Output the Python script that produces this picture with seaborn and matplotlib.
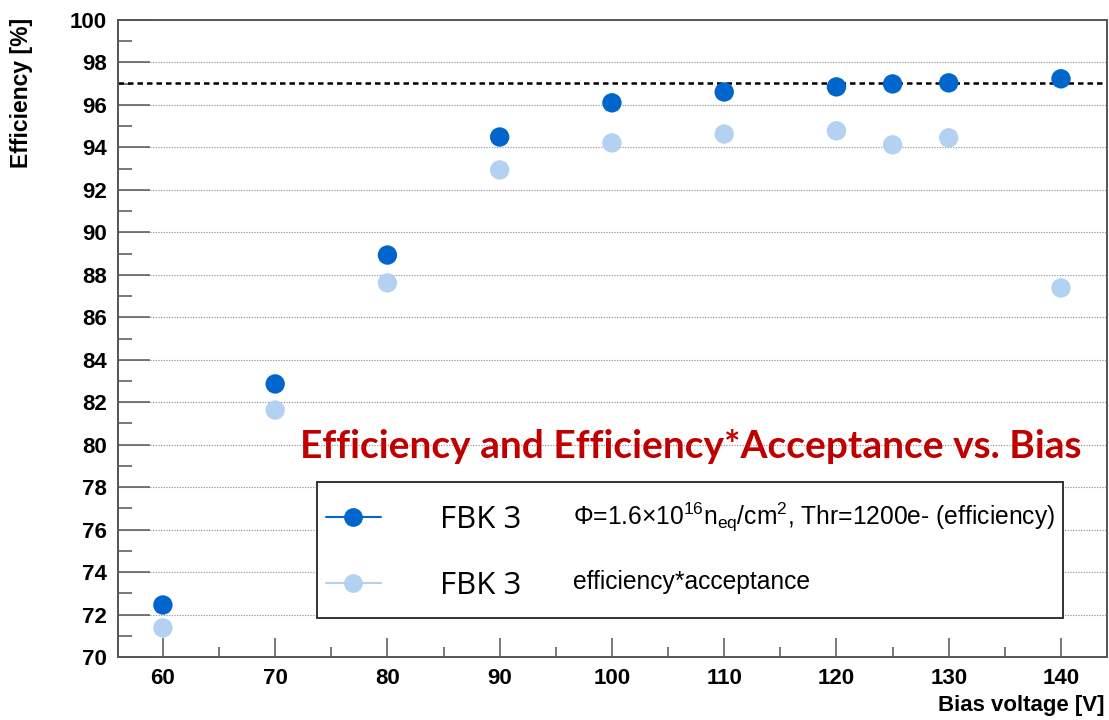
import matplotlib
matplotlib.use("Agg")
import matplotlib.pyplot as plt
from matplotlib.lines import Line2D
from matplotlib.patches import Rectangle
from matplotlib.ticker import MultipleLocator
import seaborn as sns
import pandas as pd

# values
bias = [60, 70, 80, 90, 100, 110, 120, 125, 130, 140]
efficiency = [72.45, 82.86, 88.93, 94.49, 96.10, 96.61, 96.85, 96.99, 97.04, 97.23]
eff_acceptance = [71.37, 81.63, 87.62, 92.94, 94.21, 94.63, 94.78, 94.12, 94.45, 87.38]
reference_level = 97.04

series_names = ["efficiency", "efficiency*acceptance"]
legend_label = "FBK 3"
legend_desc = [r"$\Phi$=1.6$\times$10$^{16}$n$_{\mathrm{eq}}$/cm$^{2}$, Thr=1200e- (efficiency)",
               "efficiency*acceptance"]
title = "Efficiency and Efficiency*Acceptance vs. Bias"

dark_blue = "#0066CC"
light_blue = "#B3D1F0"

sns.set_theme(style="white")
plt.rcParams["font.family"] = ["Liberation Sans", "DejaVu Sans"]
plt.rcParams["text.color"] = "black"
plt.rcParams["mathtext.fontset"] = "custom"
plt.rcParams["mathtext.rm"] = "Liberation Sans"
plt.rcParams["mathtext.it"] = "Liberation Sans:italic"

df = pd.DataFrame({
    "bias": bias * 2,
    "value": efficiency + eff_acceptance,
    "series": [series_names[0]] * len(bias) + [series_names[1]] * len(bias),
})

W, H = 1109, 720
fig = plt.figure(figsize=(W / 100, H / 100), dpi=100)
ax = fig.add_axes([118 / W, 63 / H, 989 / W, 637 / H])

sns.scatterplot(data=df, x="bias", y="value", hue="series",
                palette={series_names[0]: dark_blue, series_names[1]: light_blue},
                s=195, edgecolor="none", legend=False, ax=ax, zorder=3)

ax.axhline(reference_level, color="black", linestyle=(0, (2.2, 1.6)), linewidth=1.8, zorder=2)

ax.set_xlim(56, 144.1)
ax.set_ylim(70, 100)
ax.xaxis.set_major_locator(MultipleLocator(10))
ax.xaxis.set_minor_locator(MultipleLocator(5))
ax.yaxis.set_major_locator(MultipleLocator(2))
ax.yaxis.set_minor_locator(MultipleLocator(1))
ax.grid(axis="y", which="major", color="#8a8a8a", linestyle=(0, (1, 1.4)), linewidth=0.8)

spine_color = "#555555"
for sp in ax.spines.values():
    sp.set_color(spine_color)
    sp.set_linewidth(1.4)
ax.tick_params(axis="both", which="both", direction="in", color=spine_color, width=1.1,
               labelsize=16, labelcolor="black", pad=8, bottom=True, left=True,
               top=False, right=False)
ax.tick_params(axis="y", which="major", length=23)
ax.tick_params(axis="y", which="minor", length=10)
ax.tick_params(axis="x", which="major", length=13.7)
ax.tick_params(axis="x", which="minor", length=7)
for lab in ax.get_xticklabels() + ax.get_yticklabels():
    lab.set_fontweight("bold")

ax.set_xlabel("")
ax.set_ylabel("")
fig.text(1105 / W, 1 - 706 / H, "Bias voltage [V]", ha="right", va="center",
         fontsize=16, fontweight="bold")
fig.text(22 / W, 1 - 93 / H, "Efficiency [%]", ha="center", va="center",
         rotation=90, fontsize=16.5, fontweight="bold")

# legend box
box = Rectangle((317 / W, 1 - 618 / H), (1063 - 317) / W, 136 / H,
                transform=fig.transFigure, facecolor="white",
                edgecolor="#333333", linewidth=1.4, zorder=4, clip_on=False)
ax.add_patch(box)

handles = [
    Line2D([], [], color=dark_blue, marker="o", markersize=13.5, markeredgewidth=0, linewidth=1.5),
    Line2D([], [], color=light_blue, marker="o", markersize=13.5, markeredgewidth=0, linewidth=1.5),
]
leg = ax.legend(handles, [legend_label, legend_label],
                bbox_to_anchor=(326 / W, 1 - 553 / H), bbox_transform=fig.transFigure,
                loc="center left", frameon=False, borderpad=0.0, borderaxespad=0.0,
                handlelength=1.75, handletextpad=1.9, labelspacing=1.14,
                prop={"family": "Open Sans", "size": 22.5})
leg.set_zorder(5)

for i, txt in enumerate(legend_desc):
    fig.text(573 / W, 1 - (517 + 65 * i) / H, txt, ha="left", va="center",
             fontsize=17.7, zorder=6)

fig.text(300 / W, 1 - 447 / H, title, ha="left", va="center",
         fontsize=28, fontweight="bold", color="#C00000", family=["Lato", "DejaVu Sans"])

fig.savefig("out.png", dpi=100)
